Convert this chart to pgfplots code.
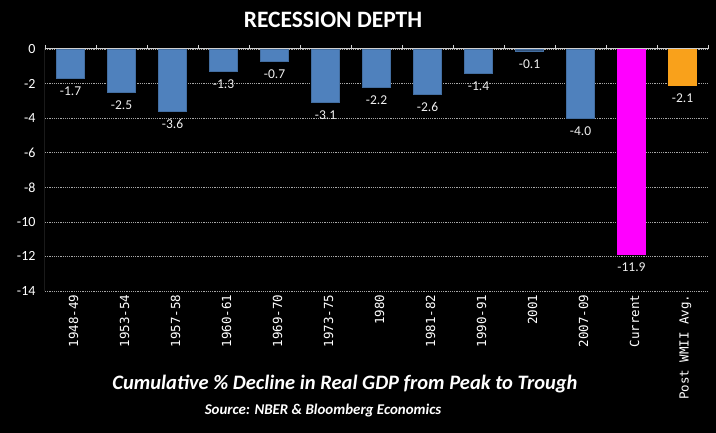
\documentclass[border=0pt]{standalone}
\usepackage{pgfplots}
\pgfplotsset{compat=1.18}
\usepackage{fontspec}
\setmainfont{Carlito}
\newfontfamily\monofont{DejaVu Sans Mono}
\definecolor{barblue}{HTML}{4F81BD}
\definecolor{barorange}{HTML}{F9A11B}
\definecolor{barmagenta}{HTML}{FF00FF}
\definecolor{axgray}{HTML}{D0D0D0}
\begin{document}
\begin{tikzpicture}[x=1pt,y=1pt]
\useasboundingbox (0,0) rectangle (716,433);
\fill[black] (0,0) rectangle (716,433);
\begin{axis}[
  at={(45pt,142pt)}, anchor=south west,
  scale only axis, width=663pt, height=242pt,
  xmin=-0.5, xmax=12.5, ymin=-14, ymax=0,
  ybar, bar width=28pt, bar shift=0pt,
  axis line style={draw=none},
  xtick={0,...,12},
  xticklabels={1948-49,1953-54,1957-58,1960-61,1969-70,1973-75,1980,1981-82,1990-91,2001,2007-09,Current,Post WMII Avg.},
  minor xtick={-0.5,0.5,...,12.5},
  major tick length=0pt, minor tick length=4pt,
  xtick pos=upper, xticklabel pos=lower,
  ytick pos=left,
  minor tick style={axgray, line width=0.8pt},
  xticklabel style={font=\monofont\fontsize{12.5}{12}\selectfont, rotate=90, anchor=east, text=white, yshift=-3pt},
  ytick={-14,-12,...,0},
  yticklabel style={font=\fontsize{14}{14}\selectfont, text=white, xshift=-6pt},
  /pgf/number format/assume math mode=true,
  ymajorgrids,
  grid style={gray!70, dash pattern=on 1.2pt off 1pt, line width=0.6pt},
  nodes near coords,
  point meta=y,
  nodes near coords style={font=\fontsize{13.5}{14}\selectfont, text=white!88!gray, yshift=-5pt,
    /pgf/number format/.cd, fixed, fixed zerofill, precision=1, assume math mode=true},
]
\addplot[fill=barblue, draw=barblue!85!black] coordinates {
  (0,-1.7) (1,-2.5) (2,-3.6) (3,-1.3) (4,-0.7) (5,-3.1) (6,-2.2)
  (7,-2.6) (8,-1.4) (9,-0.1) (10,-4.0)};
\addplot[fill=barmagenta, draw=barmagenta] coordinates {(11,-11.9)};
\addplot[fill=barorange, draw=barorange] coordinates {(12,-2.1)};
\draw[axgray, line width=1pt] (rel axis cs:0,0) -- (rel axis cs:0,1) -- (rel axis cs:1,1);
\end{axis}
\node[text=white, font=\bfseries\fontsize{23.5}{26}\selectfont] at (333,413) {RECESSION DEPTH};
\node[text=white, font=\bfseries\itshape\fontsize{20.5}{23}\selectfont] at (345,49) {Cumulative \% Decline in Real GDP from Peak to Trough};
\node[text=white, font=\bfseries\itshape\fontsize{14.9}{17}\selectfont] at (323,22) {Source: NBER \& Bloomberg Economics};
\end{tikzpicture}
\end{document}
